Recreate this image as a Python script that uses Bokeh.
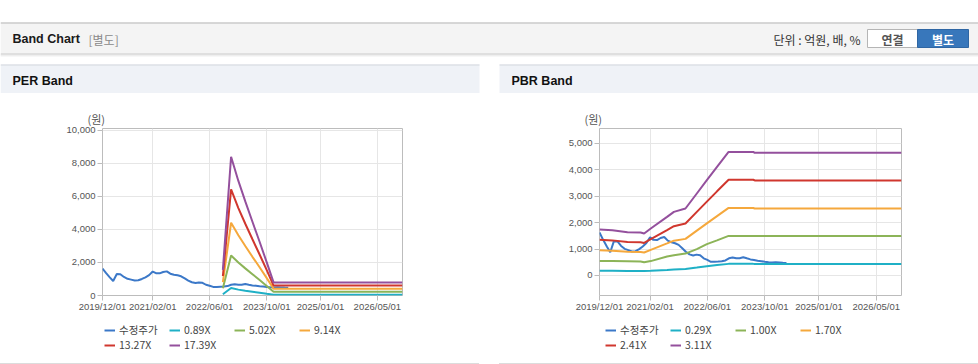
import pandas as pd
from bokeh.plotting import figure
from bokeh.layouts import column, row
from bokeh.models import (Range1d, FixedTicker, DatetimeTickFormatter, NumeralTickFormatter,
                          Legend, LegendItem, Spacer, GlobalInlineStyleSheet)
from bokeh.core.properties import value
from bokeh.embed import file_html
from bokeh.resources import INLINE

# ---------------- data ----------------
x_tick_dates = ["2019-12-01", "2021-02-01", "2022-06-01", "2023-10-01", "2025-01-01", "2026-05-01"]
x_start, x_end = "2019-12-01", "2026-12-01"

price_dates = pd.date_range("2019-12-01", periods=53, freq="MS")
price = [1630, 1350, 1100, 880, 1300, 1290, 1120, 1010, 960, 910,
         920, 1000, 1100, 1230, 1450, 1350, 1340, 1420, 1460, 1320,
         1260, 1220, 1160, 1030, 900, 800, 760, 790, 770, 650,
         590, 520, 520, 530, 540, 570, 650, 680, 650, 650,
         690, 650, 610, 590, 560, 540, 520, 500, 490, 500,
         490, 480, 470]

per_labels = ["0.89X", "5.02X", "9.14X", "13.27X", "17.39X"]
per_dates = ["2022-09-22", "2022-12-01", "2023-02-01", "2023-04-01", "2023-06-01",
             "2023-08-01", "2023-10-01", "2023-11-28", "2026-12-01"]
per_089 = [80, 450, 355, 290, 230, 165, 100, 40, 40]
per_502 = [445, 2420, 2000, 1640, 1290, 940, 580, 228, 228]
per_914 = [810, 4400, 3640, 2990, 2340, 1710, 1050, 415, 415]
per_1327 = [1180, 6420, 5290, 4340, 3400, 2480, 1530, 600, 600]
per_1739 = [1550, 8390, 6930, 5690, 4460, 3250, 2000, 790, 790]
per_y_ticks = [0, 2000, 4000, 6000, 8000, 10000]

pbr_labels = ["0.29X", "1.00X", "1.70X", "2.41X", "3.11X"]
pbr_dates = ["2019-12-01", "2020-03-19", "2020-07-25", "2020-11-13", "2020-12-13", "2021-02-07",
             "2021-06-25", "2021-08-22", "2021-11-28", "2022-03-04", "2022-05-28", "2022-08-22",
             "2022-11-28", "2023-06-25", "2023-07-07", "2026-12-01"]
pbr_029 = [175, 175, 172, 170, 168, 175, 210, 228, 250, 300, 350, 395, 440, 440, 436, 436]
pbr_100 = [550, 550, 540, 530, 500, 545, 720, 770, 830, 1000, 1190, 1330, 1500, 1500, 1495, 1495]
pbr_170 = [952, 938, 896, 889, 869, 972, 1214, 1318, 1387, 1698, 1974, 2249, 2559, 2559, 2540, 2540]
pbr_241 = [1350, 1330, 1270, 1260, 1232, 1379, 1721, 1868, 1967, 2408, 2798, 3188, 3627, 3627, 3600, 3600]
pbr_311 = [1742, 1716, 1640, 1628, 1590, 1780, 2220, 2410, 2538, 3106, 3610, 4114, 4682, 4682, 4645, 4645]
pbr_y_ticks = [0, 1000, 2000, 3000, 4000, 5000]

price_label = "수정주가"
band_colors = ["#1fb0c6", "#8cb458", "#f5a83c", "#d0372e", "#94509d"]
price_color = "#3b78c8"

KR = "Noto Sans CJK KR"
LAT = "Liberation Sans"


def ms(d):
    return pd.Timestamp(d).value / 1e6


def make_header():
    p = figure(width=978, height=93, x_range=Range1d(0, 978), y_range=Range1d(93, 0),
               x_axis_type=None, y_axis_type=None, min_border=0, toolbar_location=None,
               output_backend="svg")
    p.outline_line_color = None
    p.background_fill_color = "white"
    p.border_fill_color = "white"
    p.quad(left=[0], right=[978], top=[22], bottom=[53], fill_color="#f4f4f4", line_color=None)
    p.segment(x0=[0], y0=[22.5], x1=[978], y1=[22.5], line_color="#b5b5b5", line_width=1)
    for yy, cc in [(53.5, "#c4c4c4"), (54.5, "#dddddd"), (55.5, "#efefef")]:
        p.segment(x0=[0], y0=[yy], x1=[978], y1=[yy], line_color=cc, line_width=1)
    p.text(x=[12], y=[38.5], text=["Band Chart"], text_font=value(LAT), text_font_size="12.5px",
           text_font_style="bold", text_color="#1a1a1a", text_baseline="middle")
    p.text(x=[88], y=[38.5], text=["[별도]"], text_font=value(KR), text_font_size="12px",
           text_color="#8a8a8a", text_baseline="middle")
    p.text(x=[860], y=[38.5], text=["단위 : 억원, 배, %"], text_font=value(KR), text_font_size="12px",
           text_color="#333333", text_baseline="middle", text_align="right")
    p.quad(left=[867], right=[917], top=[29], bottom=[47], fill_color="white", line_color="#b5b5b5")
    p.quad(left=[917], right=[968], top=[29], bottom=[47], fill_color="#3877bb", line_color="#2f66a3")
    p.text(x=[892], y=[38.5], text=["연결"], text_font=value(KR), text_font_size="12px",
           text_font_style="bold", text_color="#555555", text_baseline="middle", text_align="center")
    p.text(x=[942.5], y=[38.5], text=["별도"], text_font=value(KR), text_font_size="12px",
           text_font_style="bold", text_color="white", text_baseline="middle", text_align="center")
    p.quad(left=[0, 499], right=[479, 978], top=[64, 64], bottom=[93, 93],
           fill_color="#eff2f7", line_color=None)
    p.segment(x0=[0, 499], y0=[64.5, 64.5], x1=[479, 978], y1=[64.5, 64.5],
              line_color="#d3d7dd", line_width=1)
    p.text(x=[12, 511], y=[80.5, 80.5], text=["PER Band", "PBR Band"], text_font=value(LAT),
           text_font_size="12.5px", text_font_style="bold", text_color="#111111",
           text_baseline="middle")
    return p


def make_chart(band_dates, bands, y0, y1, y_ticks, left, frame_w):
    frame_h = 167
    p = figure(width=479, height=225, x_axis_type="datetime",
               x_range=Range1d(pd.Timestamp(x_start), pd.Timestamp(x_end)),
               y_range=Range1d(y0, y1),
               min_border_left=left, min_border_right=479 - left - frame_w,
               min_border_top=35, min_border_bottom=225 - 35 - frame_h,
               toolbar_location=None, output_backend="svg")
    p.background_fill_color = "white"
    p.border_fill_color = "white"
    p.outline_line_color = "#bcbcbc"
    p.title.text = "(원)"
    p.title.align = "left"
    p.title.offset = -15
    p.title.standoff = 3
    p.title.text_font = KR
    p.title.text_font_size = "11px"
    p.title.text_font_style = "normal"
    p.title.text_color = "#555555"
    p.xaxis.ticker = FixedTicker(ticks=[ms(d) for d in x_tick_dates])
    p.xaxis.formatter = DatetimeTickFormatter(days="%Y/%m/%d", months="%Y/%m/%d", years="%Y/%m/%d")
    p.yaxis.ticker = FixedTicker(ticks=y_ticks)
    p.yaxis.formatter = NumeralTickFormatter(format="0,0")
    for ax in (p.xaxis[0], p.yaxis[0]):
        ax.axis_line_color = None
        ax.major_tick_line_color = "#bcbcbc"
        ax.major_tick_out = 5
        ax.major_tick_in = 0
        ax.minor_tick_line_color = None
        ax.major_label_standoff = 2
        ax.major_label_text_font = LAT
        ax.major_label_text_font_size = "9.5px"
        ax.major_label_text_color = "#555555"
    p.xaxis[0].major_label_standoff = 0
    p.grid.grid_line_color = "#e6e6e6"

    p.line(price_dates, price, line_color=price_color, line_width=2)
    bd = pd.to_datetime(band_dates)
    for vals, col in zip(bands, band_colors):
        p.line(bd, vals, line_color=col, line_width=2)
    return p


def make_legend(labels, dx):
    # legend-only figure sitting under each chart; its sample lines lie outside the view
    p = figure(width=479, height=45, x_range=Range1d(0, 1), y_range=Range1d(0, 1),
               x_axis_type=None, y_axis_type=None, min_border=0, toolbar_location=None,
               output_backend="svg")
    p.outline_line_color = None
    p.background_fill_color = "white"
    p.border_fill_color = "white"
    items = []
    for lab, col in zip([price_label] + labels, [price_color] + band_colors):
        r = p.line(x=[5, 6], y=[5, 6], line_color=col, line_width=2)
        items.append(LegendItem(label=lab, renderers=[r]))
    legend = Legend(items=items, location=(dx, 11), orientation="horizontal", ncols=4,
                    glyph_width=11, glyph_height=12, label_height=12, label_width=50,
                    label_standoff=4, spacing=0, padding=2, margin=0,
                    border_line_color=None, background_fill_alpha=0,
                    label_text_font=KR, label_text_font_size="10.5px",
                    label_text_line_height=1.0, label_text_color="#444444")
    p.add_layout(legend)
    return p


header = make_header()
per_chart = make_chart(per_dates, [per_089, per_502, per_914, per_1327, per_1739],
                       0, 10100, per_y_ticks, 102, 300)
pbr_chart = make_chart(pbr_dates, [pbr_029, pbr_100, pbr_170, pbr_241, pbr_311],
                       -758, 5568, pbr_y_ticks, 100, 302)
per_leg = make_legend(per_labels, 2)
pbr_leg = make_legend(pbr_labels, 6)

per_col = column(per_chart, per_leg,
                 Spacer(width=479, height=1, styles={"background-color": "#dcdcdc"}))
pbr_col = column(pbr_chart, pbr_leg,
                 Spacer(width=479, height=1, styles={"background-color": "#dcdcdc"}))
body = row(per_col, Spacer(width=20, height=271), pbr_col)
root = column(header, body)
root.stylesheets = [GlobalInlineStyleSheet(css="html, body {margin:0; padding:0; overflow:hidden;}")]

open("out.html", "w").write(file_html(root, INLINE))
